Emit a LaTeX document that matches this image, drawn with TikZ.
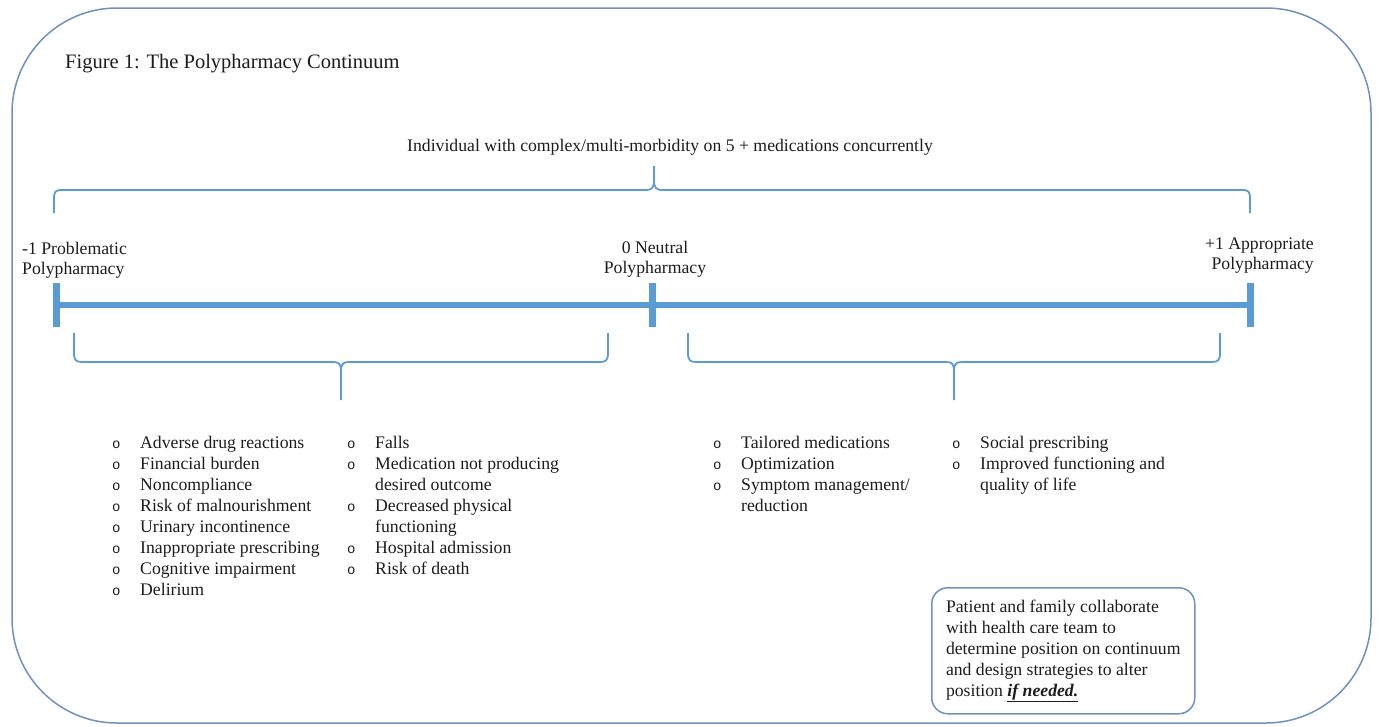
\documentclass[tikz,border=0pt]{standalone}
\usepackage{fontspec}
\setmainfont{Liberation Serif}
\newfontfamily\bulfont{Liberation Mono}
\usetikzlibrary{calc}
\definecolor{lineblue}{HTML}{5B9BD5}
\definecolor{frameblue}{HTML}{6E91BE}
\definecolor{inkgray}{HTML}{1C1C1C}
\newcommand\bl{\makebox[28pt][l]{\bulfont\fontsize{14}{21}\selectfont o}}
\begin{document}
\begin{tikzpicture}[x=1pt,y=-1pt,
  txt/.style={inner sep=0pt, text=inkgray, font=\fontsize{17.7}{21}\selectfont},
  lbl/.style={inner sep=0pt, text=inkgray, font=\fontsize{17.7}{20}\selectfont},
  brace/.style={draw=lineblue, line width=1.8pt},
  axis/.style={draw=lineblue, line width=6pt},
  tickmark/.style={draw=lineblue, line width=7pt},
  frame/.style={draw=frameblue, line width=1.5pt},
]
\useasboundingbox (0,0) rectangle (1379,726);
\draw[frame, rounded corners=105pt] (12,8) rectangle (1371,723);

% title and header
\node[txt, font=\fontsize{20.5}{24}\selectfont, anchor=base west] (title) at (65,68) {Figure 1: The Polypharmacy Continuum};
\node[txt, anchor=base] (indiv) at (670,151) {Individual with complex/multi-morbidity on 5 + medications concurrently};

% top brace
\draw[brace] (54,213) -- (54,199) .. controls (54,192) and (55,190) .. (62,190) -- (645,190) .. controls (652,190) and (654,188) .. (654,180) -- (654,166)
  -- (654,180) .. controls (654,188) and (656,190) .. (663,190) -- (1242,190) .. controls (1249,190) and (1250,192) .. (1250,199) -- (1250,213);

% axis
\coordinate (lm) at (56,305);
\coordinate (zm) at (652,305);
\coordinate (rm) at (1250,305);
\draw[axis] (lm) -- (rm);
\draw[tickmark] ($(lm)+(0,-22)$) -- ($(lm)+(0,22)$);
\draw[tickmark] ($(zm)+(0,-22)$) -- ($(zm)+(0,22)$);
\draw[tickmark] ($(rm)+(0,-22)$) -- ($(rm)+(0,22)$);

% axis labels
\node[lbl, anchor=base west] (lneg) at (22,254) {\begin{tabular}[t]{@{}l@{}}-1 Problematic\\Polypharmacy\end{tabular}};
\node[lbl, anchor=base] (lzero) at (655,253) {\begin{tabular}[t]{@{}c@{}}0 Neutral\\Polypharmacy\end{tabular}};
\node[lbl, anchor=base east] (lpos) at (1314,249) {\begin{tabular}[t]{@{}r@{}}+1 Appropriate\\Polypharmacy\end{tabular}};

% lower braces
\draw[brace] (74,333) -- (74,353) .. controls (74,360) and (76,362) .. (82,362) -- (333,362) .. controls (339,362) and (341,364) .. (341,371) -- (341,400)
  -- (341,371) .. controls (341,364) and (343,362) .. (349,362) -- (600,362) .. controls (606,362) and (608,360) .. (608,353) -- (608,333);
\draw[brace] (688,333) -- (688,353) .. controls (688,360) and (690,362) .. (696,362) -- (946,362) .. controls (952,362) and (954,364) .. (954,371) -- (954,400)
  -- (954,371) .. controls (954,364) and (956,362) .. (962,362) -- (1212,362) .. controls (1218,362) and (1220,360) .. (1220,353) -- (1220,333);

% lists
\node[txt, anchor=base west] (neg1) at (112,448) {\begin{tabular}[t]{@{}l@{}l@{}}
\bl & Adverse drug reactions\\
\bl & Financial burden\\
\bl & Noncompliance\\
\bl & Risk of malnourishment\\
\bl & Urinary incontinence\\
\bl & Inappropriate prescribing\\
\bl & Cognitive impairment\\
\bl & Delirium
\end{tabular}};
\node[txt, anchor=base west] (neg2) at (347,448) {\begin{tabular}[t]{@{}l@{}l@{}}
\bl & Falls\\
\bl & Medication not producing\\
\makebox[28pt]{} & desired outcome\\
\bl & Decreased physical\\
\makebox[28pt]{} & functioning\\
\bl & Hospital admission\\
\bl & Risk of death
\end{tabular}};
\node[txt, anchor=base west] (pos1) at (713,448) {\begin{tabular}[t]{@{}l@{}l@{}}
\bl & Tailored medications\\
\bl & Optimization\\
\bl & Symptom management/\\
\makebox[28pt]{} & reduction
\end{tabular}};
\node[txt, anchor=base west] (pos2) at (952,448) {\begin{tabular}[t]{@{}l@{}l@{}}
\bl & Social prescribing\\
\bl & Improved functioning and\\
\makebox[28pt]{} & quality of life
\end{tabular}};

% note box
\node[txt, frame, rounded corners=16pt, minimum width=263pt, minimum height=126pt, align=left, anchor=north west] (note) at (931,587)
 {Patient and family collaborate\\with health care team to\\determine position on continuum\\and design strategies to alter\\position \underline{\textbf{\textit{if needed.}}}};
\end{tikzpicture}
\end{document}
